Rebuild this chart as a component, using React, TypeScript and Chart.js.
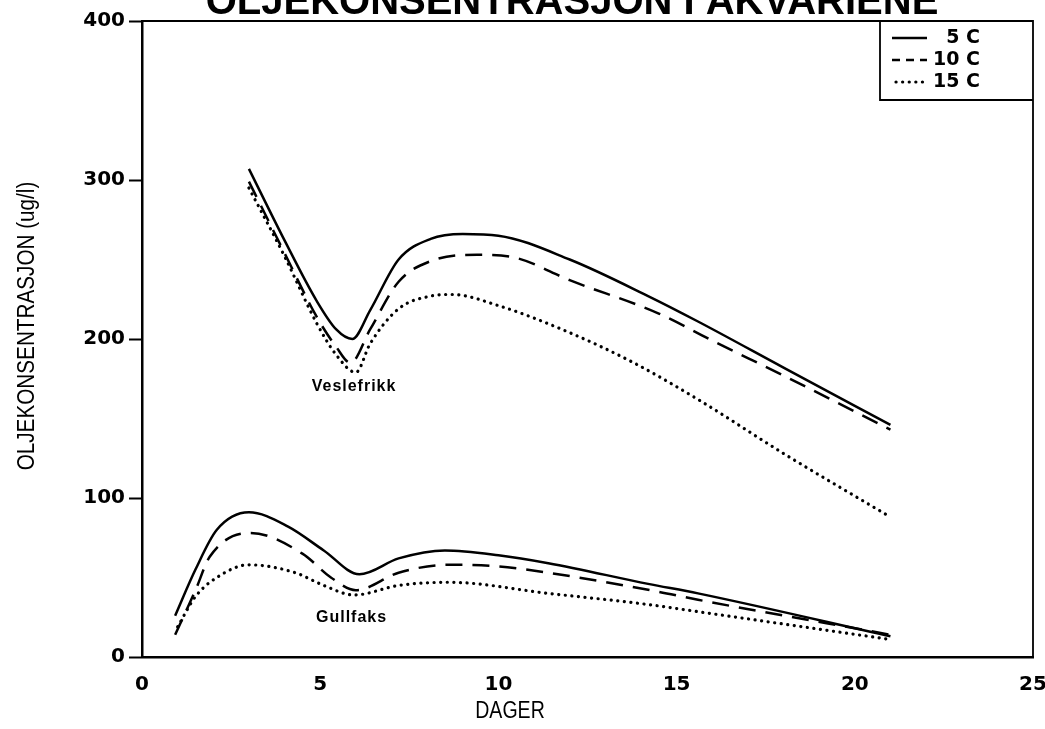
import React, { useEffect, useRef } from "react";
import { Chart, registerables } from "chart.js";
Chart.register(...registerables);

const TITLE = "OLJEKONSENTRASJON I AKVARIENE";
const X_TITLE = "DAGER";
const Y_TITLE = "OLJEKONSENTRASJON (ug/l)";
const SERIES_LABELS = ["5 C", "10 C", "15 C"];
const GROUP_LABELS = ["Veslefrikk", "Gullfaks"];
const GROUP_LABEL_POS = [
  [5.95, 170],
  [5.88, 25],
];
const X_MIN = 0;
const X_MAX = 25;
const X_STEP = 5;
const Y_MIN = 0;
const Y_MAX = 400;
const Y_STEP = 100;

// Veslefrikk
const vesle5Days = [3, 4, 4.9, 5.45, 5.9, 6.4, 7.2, 8.1, 9, 10, 12, 14.2, 15.6, 18, 21];
const vesle5 = [307, 262, 224, 206, 200, 218, 250, 263, 266, 265, 250, 227, 211, 182, 146];
const vesle10Days = [3, 4, 4.9, 5.45, 5.85, 6.4, 7.2, 8.1, 9.4, 10.5, 12, 14.5, 16, 18, 21];
const vesle10 = [299, 254, 214, 195, 185, 206, 236, 249, 253, 251, 237, 216, 199, 177, 143];
const vesle15Days = [3, 4, 4.9, 5.45, 6, 6.4, 7.2, 8.1, 8.7, 10, 12, 13.8, 15.6, 18, 21];
const vesle15 = [295, 252, 210, 190, 179, 197, 219, 227, 228, 221, 204, 185, 162, 128, 88];

// Gullfaks
const gull5Days = [0.93, 1.5, 2.1, 3.0, 4.1, 5.1, 6.1, 7.2, 8.5, 10, 11.4, 14.2, 15.6, 21];
const gull5 = [26, 55, 80, 91, 82, 67, 52, 62, 67, 64, 59, 46, 40, 13];
const gull10Days = [0.93, 1.5, 1.9, 3.05, 4.5, 5.3, 6.0, 7.2, 8.6, 10, 11.4, 14.5, 15.6, 21];
const gull10 = [14, 42, 63, 78, 65, 50, 42, 53, 58, 57, 53, 41, 36, 14];
const gull15Days = [1.0, 1.5, 2.1, 3.0, 4.3, 5.1, 5.95, 7.2, 8.6, 11.4, 14.2, 15.6, 21];
const gull15 = [19, 38, 50, 58, 53, 45, 39, 45, 47, 40, 33, 28.5, 11];

const STYLES = [
  { borderDash: [] as number[], borderWidth: 2.5, borderCapStyle: "butt" },
  { borderDash: [17, 10], borderWidth: 2.5, borderCapStyle: "butt" },
  { borderDash: [0.1, 6.5], borderWidth: 3.2, borderCapStyle: "round" },
];

const pts = (xs: number[], ys: number[]) => xs.map((x, i) => ({ x, y: ys[i] }));

const SERIES = [
  { d: vesle5Days, v: vesle5, s: 0, name: "Veslefrikk 5 C" },
  { d: vesle10Days, v: vesle10, s: 1, name: "Veslefrikk 10 C" },
  { d: vesle15Days, v: vesle15, s: 2, name: "Veslefrikk 15 C" },
  { d: gull5Days, v: gull5, s: 0, name: "Gullfaks 5 C" },
  { d: gull10Days, v: gull10, s: 1, name: "Gullfaks 10 C" },
  { d: gull15Days, v: gull15, s: 2, name: "Gullfaks 15 C" },
];

const TICK_FONT = { family: "'DejaVu Sans', sans-serif", size: 20, weight: "bold" as const };

const decorPlugin = {
  id: "decor",
  afterDraw(chart: any) {
    const { ctx, chartArea: a, scales } = chart;
    ctx.save();
    ctx.fillStyle = "#000";
    ctx.strokeStyle = "#000";
    // frame top & right
    ctx.lineWidth = 1.8;
    ctx.beginPath();
    ctx.moveTo(a.left, a.top);
    ctx.lineTo(a.right, a.top);
    ctx.lineTo(a.right, a.bottom);
    ctx.stroke();

    // title (partly cut by top edge)
    ctx.font = "bold 40px 'Liberation Sans', Arial, sans-serif";
    ctx.textAlign = "center";
    ctx.textBaseline = "alphabetic";
    ctx.fillText(TITLE, 572, 14);

    // axis titles
    ctx.font = "23px 'Liberation Sans', Arial, sans-serif";
    ctx.save();
    ctx.translate(510, 712);
    ctx.scale(0.85, 1);
    ctx.textBaseline = "middle";
    ctx.fillText(X_TITLE, 0, 0);
    ctx.restore();
    ctx.save();
    ctx.translate(28, 326);
    ctx.rotate(-Math.PI / 2);
    ctx.scale(0.9, 1);
    ctx.textBaseline = "middle";
    ctx.fillText(Y_TITLE, 0, 0);
    ctx.restore();

    // group labels
    ctx.font = "bold 16px 'Liberation Sans', Arial, sans-serif";
    (ctx as any).letterSpacing = "1px";
    ctx.textBaseline = "middle";
    GROUP_LABELS.forEach((t, i) => {
      const x = scales.x.getPixelForValue(GROUP_LABEL_POS[i][0]);
      const y = scales.y.getPixelForValue(GROUP_LABEL_POS[i][1]);
      ctx.fillText(t, x, y);
    });
    (ctx as any).letterSpacing = "0px";

    // legend
    const lx = 880, ly = a.top, lr = a.right, lb = 100;
    ctx.lineWidth = 1.8;
    ctx.beginPath();
    ctx.moveTo(lx, ly);
    ctx.lineTo(lx, lb);
    ctx.lineTo(lr, lb);
    ctx.stroke();
    ctx.font = "bold 19px 'DejaVu Sans', sans-serif";
    ctx.textAlign = "right";
    ctx.textBaseline = "middle";
    SERIES_LABELS.forEach((lab, i) => {
      const y = ly + 17 + i * 22;
      const st = STYLES[i];
      ctx.save();
      ctx.lineWidth = st.borderWidth;
      ctx.lineCap = st.borderCapStyle as CanvasLineCap;
      ctx.setLineDash(i === 1 ? [8, 6] : st.borderDash);
      ctx.beginPath();
      ctx.moveTo(i === 2 ? 896 : 892, y);
      ctx.lineTo(927, y);
      ctx.stroke();
      ctx.restore();
      ctx.fillText(lab, 980, y);
    });
    ctx.restore();
  },
};

export default function App() {
  const ref = useRef<HTMLCanvasElement>(null);
  useEffect(() => {
    if (!ref.current) return;
    const chart = new Chart(ref.current, {
      type: "line",
      data: {
        datasets: SERIES.map((s) => ({
          label: s.name,
          data: pts(s.d, s.v),
          borderColor: "#000",
          backgroundColor: "#000",
          borderWidth: STYLES[s.s].borderWidth,
          borderDash: STYLES[s.s].borderDash,
          borderCapStyle: STYLES[s.s].borderCapStyle as any,
          pointRadius: 0,
          cubicInterpolationMode: "monotone" as const,
          fill: false,
        })),
      },
      plugins: [decorPlugin],
      options: {
        responsive: false,
        animation: false,
        layout: { padding: { top: 21, right: 12, left: 0, bottom: 0 } },
        plugins: { legend: { display: false }, tooltip: { enabled: false }, title: { display: false } },
        scales: {
          x: {
            type: "linear",
            min: X_MIN,
            max: X_MAX,
            ticks: { stepSize: X_STEP, color: "#000", font: TICK_FONT, padding: 16, maxRotation: 0, autoSkip: false },
            grid: { drawOnChartArea: false, drawTicks: false },
            border: { color: "#000", width: 2.5 },
            afterFit: (sc: any) => {
              sc.height = 72;
              sc.paddingLeft = 0;
              sc.paddingRight = 0;
            },
          },
          y: {
            min: Y_MIN,
            max: Y_MAX,
            ticks: { stepSize: Y_STEP, color: "#000", font: TICK_FONT, padding: 4 },
            grid: { drawOnChartArea: false, drawTicks: true, tickLength: 13, tickColor: "#000", tickWidth: 2 },
            border: { color: "#000", width: 2.5 },
            afterFit: (sc: any) => {
              sc.width = 142;
              sc.paddingTop = 0;
              sc.paddingBottom = 0;
            },
          },
        },
      },
    });
    return () => chart.destroy();
  }, []);
  return (
    <div style={{ position: "absolute", left: 0, top: 0, width: 1045, height: 729, background: "#fff" }}>
      <canvas ref={ref} width={1045} height={729} style={{ display: "block" }} />
    </div>
  );
}
